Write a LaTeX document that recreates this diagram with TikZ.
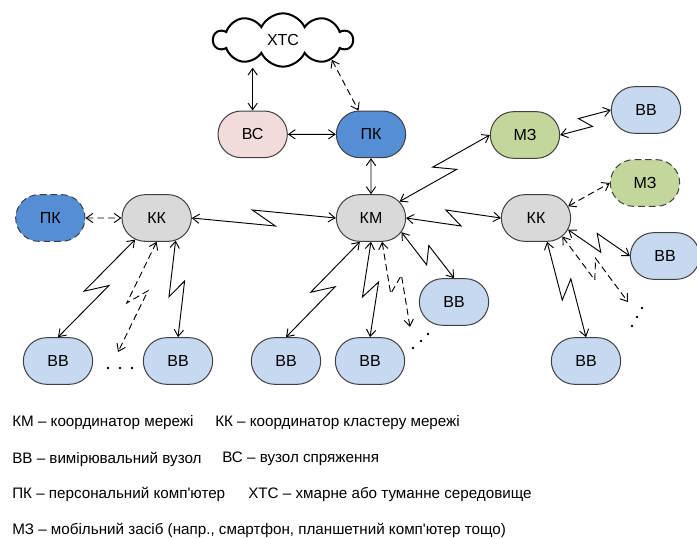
\documentclass[tikz,border=0pt]{standalone}
\usepackage{fontspec}
\setmainfont{Liberation Sans}[Ligatures=TeXOff]
\usetikzlibrary{arrows.meta,positioning,calc,shapes.misc,shapes.symbols}
\definecolor{kontur}{RGB}{64,64,64}
\definecolor{sirij}{RGB}{217,217,217}
\definecolor{blakyt}{RGB}{198,217,241}
\definecolor{synij}{RGB}{85,142,213}
\definecolor{zelen}{RGB}{195,214,155}
\definecolor{rozhev}{RGB}{242,220,219}

\begin{document}
\begin{tikzpicture}[x=0.75pt,y=-0.75pt,
vuz/.style={rounded rectangle,draw=kontur,line width=0.75pt,minimum width=54pt,minimum height=35pt,inner sep=1pt,font=\fontsize{12}{14}\selectfont},
koord/.style={vuz,fill=sirij},
vymir/.style={vuz,fill=blakyt},
pers/.style={vuz,fill=synij},
mob/.style={vuz,fill=zelen},
sprjazh/.style={vuz,fill=rozhev},
punktyr/.style={dash pattern=on 5pt off 3pt},
khmara/.style={cloud,draw,line width=1.5pt,cloud puffs=10,cloud puff arc=130,aspect=2.5,minimum width=104pt,minimum height=40pt,font=\fontsize{12}{14}\selectfont},
legenda/.style={anchor=west,inner sep=0pt,font=\fontsize{11.4}{13}\selectfont},
arr/.style={{Straight Barb[length=5pt,width=7pt]}-{Straight Barb[length=5pt,width=7pt]},line width=0.7pt},
zap/.style={to path={-- ($(\tikztostart)!.58!(\tikztotarget)!#1!-90:(\tikztotarget)$) -- ($(\tikztostart)!.42!(\tikztotarget)!#1!90:(\tikztotarget)$) -- (\tikztotarget)}},
zap/.default=6pt
]
\useasboundingbox (0,0) rectangle (697,539);

% vuzly
\node[koord] (km) at (371,218) {КМ};
\node[pers,above=27pt of km] (pcT) {ПК};
\node[sprjazh,left=36pt of pcT] (vs) {ВС};
\node[khmara] (xtc) at (283,40) {ХТС};
\node[koord,left=108pt of km] (kkL) {КК};
\node[pers,punktyr,left=27pt of kkL] (pcL) {ПК};
\node[koord,right=71pt of km] (kkR) {КК};
\node[mob] (mzT) at (525,135) {МЗ};
\node[vymir] (bbT) at (646,110) {ВВ};
\node[mob,punktyr] (mzD) at (645,183) {МЗ};
\node[vymir] (bbR) at (665,256) {ВВ};
\node[vymir] (bb1) at (58,361) {ВВ};
\node[vymir] (bb2) at (178,361) {ВВ};
\node[vymir] (bb3) at (286,361) {ВВ};
\node[vymir] (bb4) at (370,361) {ВВ};
\node[vymir] (bb5) at (454,302) {ВВ};
\node[vymir] (bb6) at (586,361) {ВВ};

% kinci punktyrnykh
\coordinate (dL) at (118,352);
\coordinate (dM) at (410,327);
\coordinate (dR) at (628,302);
% krapky
\foreach \p in {(108,368),(120,368),(132,368),(413,348),(421,341),(428,334),(642,308),(637,317),(632,326)}
  \fill \p circle (1pt);

% zviazky
\draw[arr] (vs) -- (vs |- xtc.south);
\draw[arr,punktyr] (xtc.-22) -- (pcT);
\draw[arr] (vs) -- (pcT);
\draw[arr] (pcT) -- (km);
\draw[arr] (km.30) to[zap] (mzT.west);
\draw[arr] (mzT.east) to[zap=5pt] (bbT.west);
\draw[arr] (kkL.east) to[zap] (km.west);
\draw[arr] (km.east) to[zap] (kkR.west);
\draw[arr,punktyr] (pcL) -- (kkL);
\draw[arr,punktyr] (kkR.20) -- (mzD.west);
\draw[arr] (kkL.-135) to[zap] (bb1.north);
\draw[arr,punktyr] (kkL.south) to[zap] (dL);
\draw[arr] (kkL.-50) to[zap] (bb2.north);
\draw[arr] (km.-115) to[zap] (bb3.north);
\draw[arr] (km.south) to[zap] (bb4.north);
\draw[arr,punktyr] (km.-65) to[zap] (dM);
\draw[arr] (km.-25) to[zap] (bb5.north);
\draw[arr] (kkR.-20) to[zap] (bbR.west);
\draw[arr,punktyr] (kkR.-35) to[zap] (dR);
\draw[arr] (kkR.-65) to[zap] (bb6.north);

% legenda
\node[legenda] (l1) at (12,423) {КМ – координатор мережі};
\node[legenda] (l2) at (215,423) {КК – координатор кластеру мережі};
\node[legenda] (l3) at (12,459) {ВВ – вимірювальний вузол};
\node[legenda] (l4) at (222,459) {ВС – вузол спряження};
\node[legenda] (l5) at (12,494) {ПК – персональний комп'ютер};
\node[legenda] (l6) at (248,494) {ХТС – хмарне або туманне середовище};
\node[legenda] (l7) at (12,530) {МЗ – мобільний засіб (напр., смартфон, планшетний комп'ютер тощо)};
\end{tikzpicture}
\end{document}
